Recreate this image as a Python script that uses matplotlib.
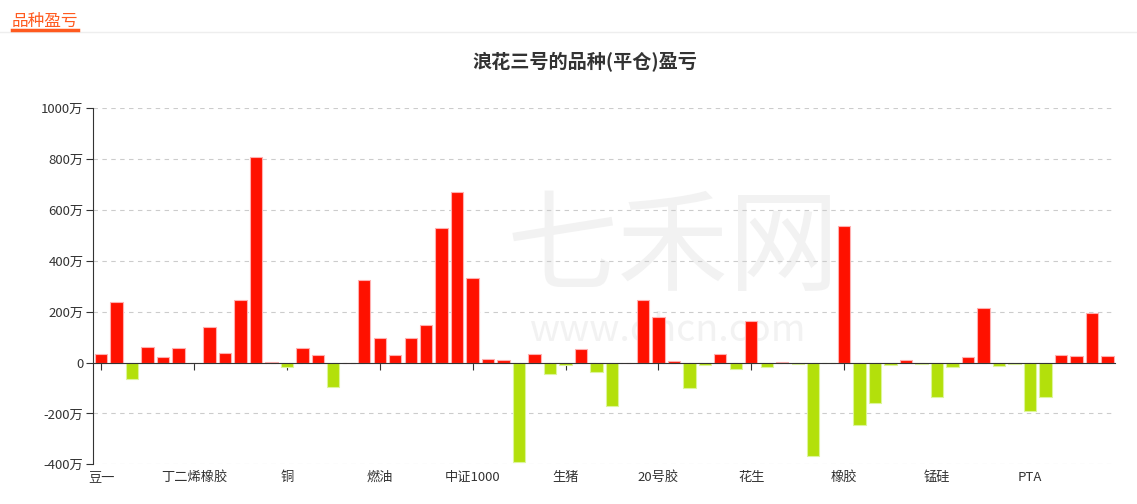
import matplotlib

matplotlib.use('Agg')
import matplotlib.pyplot as plt
import matplotlib.transforms as mtransforms

plt.rcParams['font.family'] = ['Noto Sans CJK SC', 'DejaVu Sans']

# categories (only every 6th name is shown on the axis)
names = ["豆一", "豆二", "豆粕", "豆油", "菜粕", "菜油",
         "丁二烯橡胶", "棕榈油", "玉米", "淀粉", "鸡蛋", "白糖",
         "铜", "铝", "锌", "镍", "锡", "铅",
         "燃油", "沥青", "原油", "甲醇", "乙二醇", "塑料",
         "中证1000", "沪深300", "上证50", "中证500", "国债", "十年债",
         "生猪", "苹果", "红枣", "棉花", "纯碱", "玻璃",
         "20号胶", "纸浆", "尿素", "焦炭", "焦煤", "铁矿",
         "花生", "螺纹", "热卷", "不锈钢", "黄金", "白银",
         "橡胶", "PVC", "PP", "苯乙烯", "LPG", "硅铁",
         "锰硅", "工业硅", "碳酸锂", "短纤", "低硫油", "集运",
         "PTA", "对二甲苯", "烧碱", "瓶片", "氧化铝", "菜籽"]

# profit/loss in 万
pnl = [33, 239, -63, 63, 22, 59,
       0, 139, 37, 248, 807, 1,
       -17, 59, 28, -97, 0, 323,
       96, 28, 98, 147, 528, 671,
       333, 13, 12, -391, 35, -43,
       -10, 55, -37, -171, 0, 248,
       180, 8, -100, -8, 34, -26,
       163, -18, 4, -5, -366, -3,
       537, -245, -159, -10, 9, -5,
       -135, -16, 21, 213, -14, -4,
       -189, -136, 29, 25, 196, 25]

yticks = [-400, -200, 0, 200, 400, 600, 800, 1000]
label_step = 6

red = '#ff1100'
green = '#b3e00b'

fig = plt.figure(figsize=(11.37, 5.04), dpi=100)
ax = fig.add_axes([0.0821, 0.0788, 0.8986, 0.7063])

# watermark, behind the bars
ax.text(0.592, 0.504, "七禾网", transform=fig.transFigure, fontsize=80,
        color='#f2f2f2', ha='center', va='center', zorder=1)
ax.text(0.588, 0.345, "www.qhcn.com", transform=fig.transFigure, fontsize=27,
        color='#f2f2f2', ha='center', va='center', zorder=1)

x = list(range(len(pnl)))
colors = [red if v >= 0 else green for v in pnl]
edges = ['#ffb0b0' if v >= 0 else '#dcf59a' for v in pnl]
ax.bar(x, pnl, width=0.8, color=colors, edgecolor=edges, linewidth=0.8, zorder=3)

ax.set_xlim(-0.5, len(pnl) - 0.5)
ax.set_ylim(-400, 1000)
ax.set_yticks(yticks)
ax.set_yticklabels([(str(v) + "万") if v != 0 else "0" for v in yticks],
                   fontsize=9.5, color='#333333')
ax.yaxis.grid(True, linestyle=(0, (4, 4)), color='#cccccc', linewidth=0.8, zorder=0)

for s in ['top', 'right']:
    ax.spines[s].set_visible(False)
ax.spines['left'].set_color('#333333')
ax.spines['bottom'].set_position(('data', 0))
ax.spines['bottom'].set_color('#333333')
ax.spines['bottom'].set_zorder(4)
ax.tick_params(axis='y', length=5, color='#333333', pad=2)

ticks = x[::label_step]
ax.set_xticks(ticks)
ax.set_xticklabels([])
ax.tick_params(axis='x', length=5, color='#333333', direction='out')

trans = mtransforms.blended_transform_factory(ax.transData, ax.transAxes)
for i in ticks:
    ax.text(i, -0.018, names[i], transform=trans, ha='center', va='top',
            fontsize=9.5, color='#333333')

fig.text(0.5145, 0.877, "浪花三号的品种(平仓)盈亏", fontsize=13.8, fontweight='bold',
         color='#333333', ha='center', va='center')

# header
fig.text(0.0106, 0.957, "品种盈亏", fontsize=12, color='#ff5a1f', ha='left', va='center')
fig.add_artist(plt.Line2D([0.0, 1.0], [0.937, 0.937], color='#eeeeee', linewidth=1))
fig.add_artist(plt.Line2D([0.0106, 0.0686], [0.940, 0.940], color='#ff5a1f', linewidth=2.5))

fig.savefig('out.png', dpi=100)
